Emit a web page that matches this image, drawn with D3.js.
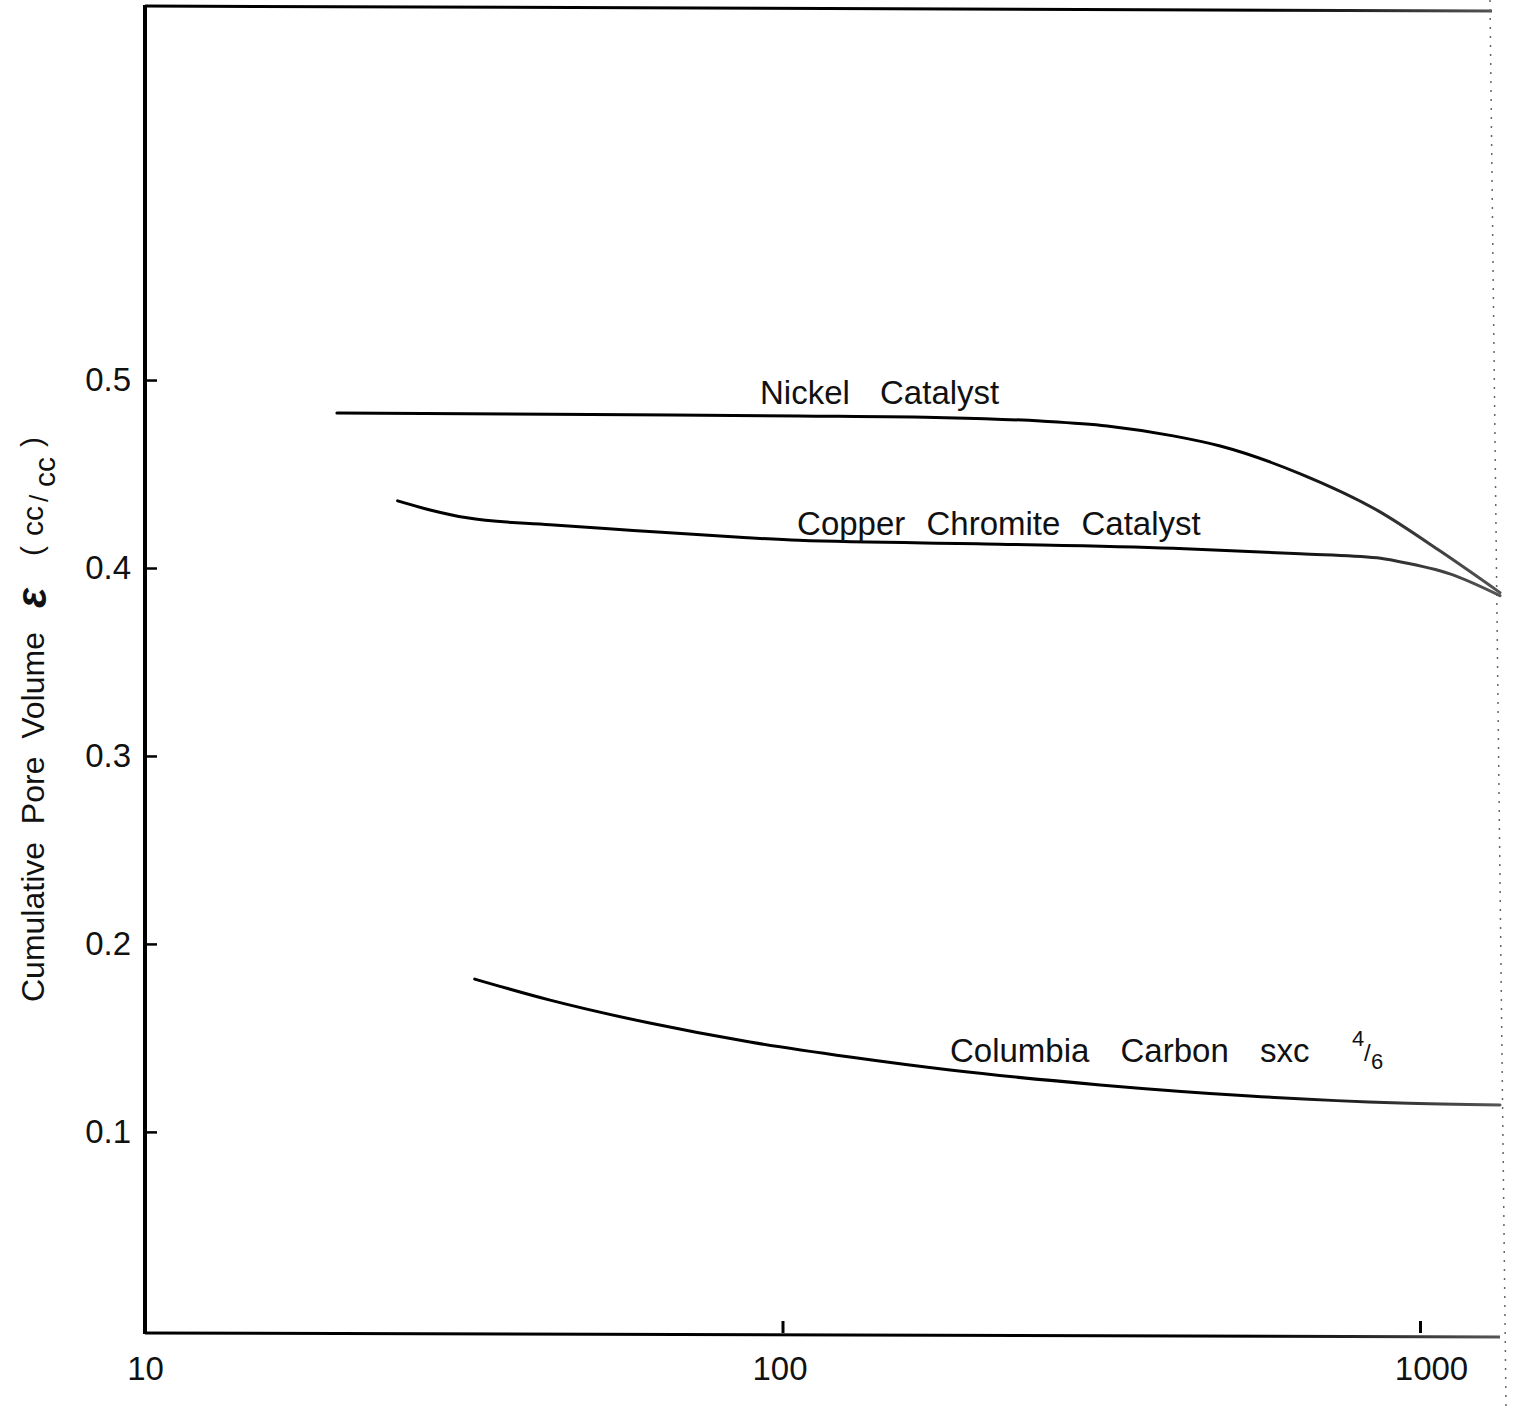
<!DOCTYPE html>
<html>
<head>
<meta charset="utf-8">
<script src="https://cdn.jsdelivr.net/npm/d3@7"></script>
<style>
  html, body { margin: 0; padding: 0; background: #fff; }
  svg { display: block; }
  text { font-family: "Liberation Sans", "DejaVu Sans", sans-serif; fill: #111; }
</style>
</head>
<body>
<svg id="chart" width="1518" height="1406"></svg>
<script>
// Pore diameter (Å, log scale) vs cumulative pore volume (cc/cc)
const nickelX  = [20, 50, 106, 180, 254, 323, 410, 486, 649, 860, 1080, 1335];
const nickelY  = [0.4825, 0.4817, 0.4809, 0.4800, 0.4782, 0.4756, 0.4703, 0.4649, 0.4501, 0.4304, 0.4086, 0.3869];

const copperX  = [24.9, 28.0, 32.0, 43.2, 58.3, 85.7, 106, 219, 410, 649, 856, 930, 1114, 1335];
const copperY  = [0.4357, 0.4309, 0.4267, 0.4230, 0.4200, 0.4163, 0.4147, 0.4127, 0.4105, 0.4076, 0.4054, 0.4033, 0.3969, 0.3853];

const carbonX  = [32.9, 43.2, 61.9, 88.9, 127.6, 183.2, 315, 541, 930, 1335];
const carbonY  = [0.1813, 0.1701, 0.1579, 0.1478, 0.1398, 0.1329, 0.1250, 0.1191, 0.1154, 0.1143];

const xTicks      = [10, 100, 1000];
const xTickLabels = ["10", "100", "1000"];
const yTicks      = [0.1, 0.2, 0.3, 0.4, 0.5];
const yTickLabels = ["0.1", "0.2", "0.3", "0.4", "0.5"];

const curveNames  = ["Nickel Catalyst", "Copper Chromite Catalyst", "Columbia Carbon sxc"];
// label anchors in data units (left end of text, baseline)
const labelX      = [92.2, 105.4, 183.1];
const labelY      = [0.4873, 0.4178, 0.1372];

const svg = d3.select("#chart");

const plotLeft = 145, plotRight = 1500, plotTop = 6, plotBottom = 1333;
const x = d3.scaleLog().domain([10, 1335]).range([plotLeft, plotRight]);
const y = d3.scaleLinear().domain([-0.007, 0.699]).range([plotBottom, plotTop]);

// stroke fades toward the right edge, where the trace gets faint
const defs = svg.append("defs");
const grad = defs.append("linearGradient")
  .attr("id", "fade").attr("gradientUnits", "userSpaceOnUse")
  .attr("x1", 1250).attr("x2", 1500).attr("y1", 0).attr("y2", 0);
grad.append("stop").attr("offset", 0).attr("stop-color", "#000");
grad.append("stop").attr("offset", 1).attr("stop-color", "#555");

// frame
svg.append("line").attr("x1", plotLeft).attr("x2", plotLeft).attr("y1", plotTop - 1).attr("y2", plotBottom + 1)
  .attr("stroke", "#000").attr("stroke-width", 4);
svg.append("line").attr("x1", plotLeft).attr("x2", plotRight - 8).attr("y1", plotTop).attr("y2", plotTop + 5)
  .attr("stroke", "url(#fade)").attr("stroke-width", 3);
svg.append("line").attr("x1", plotLeft).attr("x2", plotRight).attr("y1", plotBottom).attr("y2", plotBottom + 4)
  .attr("stroke", "url(#fade)").attr("stroke-width", 3);
svg.append("line").attr("x1", plotRight - 10).attr("x2", plotRight + 6).attr("y1", 0).attr("y2", 1406)
  .attr("stroke", "#666").attr("stroke-width", 1.5).attr("stroke-dasharray", "2,7");

// axes
const yAxis = d3.axisLeft(y).tickValues(yTicks)
  .tickFormat((d, i) => yTickLabels[i]).tickSize(-12).tickPadding(14);
const gy = svg.append("g").attr("transform", `translate(${plotLeft},0)`).call(yAxis);
gy.select(".domain").remove();
gy.selectAll(".tick line").attr("stroke", "#000").attr("stroke-width", 2.5);
gy.selectAll(".tick text").attr("font-size", 33).attr("font-family", "Liberation Sans, sans-serif")
  .attr("fill", "#111");

const xAxis = d3.axisBottom(x).tickValues(xTicks)
  .tickFormat((d, i) => xTickLabels[i]).tickSize(-12).tickPadding(24);
const gx = svg.append("g").attr("transform", `translate(0,${plotBottom})`).call(xAxis);
gx.select(".domain").remove();
gx.selectAll(".tick line").attr("stroke", "#000").attr("stroke-width", 3)
  .filter(d => d === 10).remove();
gx.selectAll(".tick text").attr("font-size", 33).attr("font-family", "Liberation Sans, sans-serif")
  .attr("fill", d => d === 1000 ? "#8a8a8a" : "#111")
  .attr("dx", d => d === 1000 ? 11 : (d === 100 ? -3 : 0));

// curves
const line = d3.line().x(d => x(d[0])).y(d => y(d[1])).curve(d3.curveMonotoneX);
const series = [
  d3.zip(nickelX, nickelY),
  d3.zip(copperX, copperY),
  d3.zip(carbonX, carbonY)
];
svg.append("g").selectAll("path").data(series).join("path")
  .attr("d", line)
  .attr("fill", "none")
  .attr("stroke", "url(#fade)")
  .attr("stroke-width", 3)
  .attr("stroke-linecap", "round");

// curve labels (lettering-guide style: wide gaps between words)
const wordGap = [21, 12, 22];
const labels = svg.append("g").attr("font-size", 33);
curveNames.forEach((name, i) => {
  labels.append("text")
    .attr("x", x(labelX[i])).attr("y", y(labelY[i]))
    .style("word-spacing", wordGap[i] + "px")
    .text(name);
});
// "4/6" fraction after the carbon label
const fx = x(labelX[2]) + 402, fy = y(labelY[2]);
labels.append("text").attr("x", fx).attr("y", fy - 16).attr("font-size", 22).text("4");
labels.append("text").attr("x", fx + 12).attr("y", fy - 1).attr("font-size", 24).text("/");
labels.append("text").attr("x", fx + 19).attr("y", fy + 7).attr("font-size", 22).text("6");

// y-axis title, rotated
const yt = svg.append("g").attr("transform", "translate(44,1002) rotate(-90)").attr("font-size", 32);
yt.append("text").attr("x", 0).attr("y", 0).style("white-space", "pre").text("Cumulative  Pore  Volume");
yt.append("text").attr("x", 394).attr("y", 2).attr("font-size", 42).attr("font-weight", "bold")
  .attr("font-style", "italic").attr("font-family", "DejaVu Serif, serif").text("ε");
yt.append("text").attr("x", 446).attr("y", -2).attr("font-size", 30).text("(");
yt.append("text").attr("x", 466).attr("y", -1).attr("font-size", 30).text("cc");
yt.append("text").attr("x", 500).attr("y", 4).attr("font-size", 26).text("/");
yt.append("text").attr("x", 515).attr("y", 11).attr("font-size", 30).text("cc");
yt.append("text").attr("x", 555).attr("y", -2).attr("font-size", 30).text(")");
</script>
</body>
</html>
